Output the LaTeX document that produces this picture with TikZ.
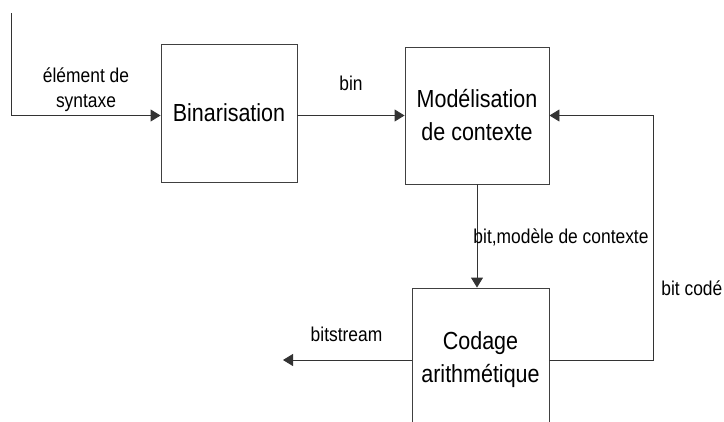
\documentclass[tikz,border=0pt]{standalone}
\usepackage{fontspec}
\setmainfont{Liberation Sans}[FakeStretch=0.87]
\usetikzlibrary{arrows.meta}

\begin{document}
\begin{tikzpicture}[x=1pt,y=-1pt,
  block/.style={draw=black!75, line width=0.9pt, fill=white, align=center,
    font=\fontsize{24.7}{33}\selectfont, inner sep=0pt},
  lbl/.style={font=\fontsize{20}{25}\selectfont, align=center, inner sep=0pt},
  link/.style={draw=black!80, line width=0.9pt, -{Triangle[length=10pt,width=12pt]}}]
\useasboundingbox (0,0) rectangle (724,421);
\clip (0,0) rectangle (724,421);

% processing blocks
\node[block, minimum width=136pt, minimum height=138pt] (binar) at (229,113) {Binarisation};
\node[block, minimum width=144pt, minimum height=137pt] (mod) at (477,115.5) {Modélisation\\de contexte};
\node[block, minimum width=137pt, minimum height=144pt] (cod) at (480.5,360) {Codage\\arithmétique};

% free ends of the connectors
\coordinate (src) at (11,13);
\coordinate (fb) at (653,115.5);
\coordinate (out) at (283,360);

% connectors
\draw[link] (src) |- (binar.west |- mod.west);
\draw[link] (binar.east |- mod.west) -- (mod.west);
\draw[link] (mod.south) -- (mod.south |- cod.north);
\draw[link] (cod.east) -| (fb) -- (mod.east);
\draw[link] (cod.west) -- (out);

% labels
\node[lbl] (lsyn) at (86,90) {élément de\\syntaxe};
\node[lbl] (lbin) at (351,83.5) {bin};
\node[lbl] (lctx) at (561,237) {bit,modèle de contexte};
\node[lbl, anchor=east] (lcod) at (722.5,288) {bit codé};
\node[lbl] (lbs) at (346.5,334.5) {bitstream};
\end{tikzpicture}
\end{document}
